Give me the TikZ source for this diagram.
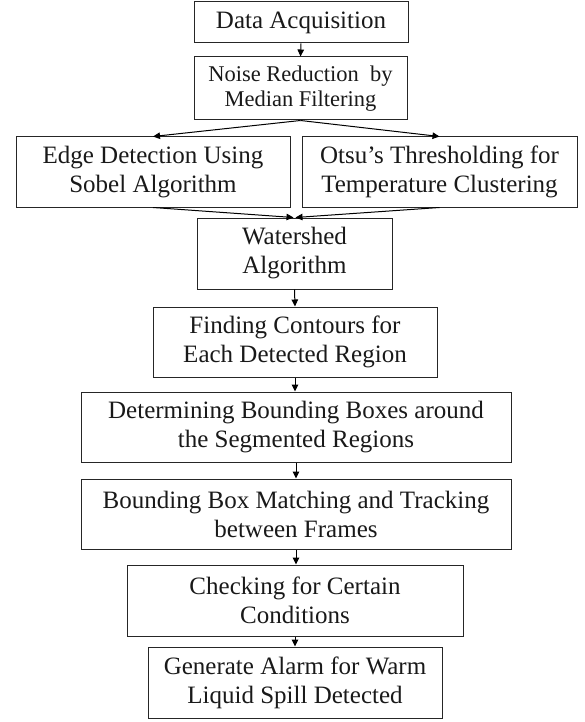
\documentclass[tikz,border=0pt]{standalone}
\usepackage{fontspec}
\setmainfont{Liberation Serif}
\usetikzlibrary{arrows.meta}
\begin{document}
\begin{tikzpicture}[x=1pt,y=-1pt,
  box/.style={draw=black!85, line width=1pt, inner sep=0pt, align=center,
    text=black!90, font=\fontsize{25}{29}\selectfont},
  smalltext/.style={font=\fontsize{22.5}{25}\selectfont},
  arr/.style={draw=black, line width=1pt, -{Triangle[length=7pt,width=6.5pt]}}]
\useasboundingbox (0,0) rectangle (584,722);
\node[box, minimum width=214pt, minimum height=41pt] (data) at (301,22.5) {Data Acquisition};
\node[box, smalltext, minimum width=213pt, minimum height=63pt] (noise) at (300.5,88.5) {Noise Reduction\ \ by\\Median Filtering};
\node[box, minimum width=274pt, minimum height=70pt] (edge) at (153,172) {Edge Detection Using\\Sobel Algorithm};
\node[box, minimum width=275pt, minimum height=70pt] (otsu) at (439.5,172) {Otsu’s Thresholding for\\Temperature Clustering};
\node[box, minimum width=195pt, minimum height=71pt] (water) at (294.5,253.5) {Watershed\\Algorithm};
\node[box, minimum width=284pt, minimum height=70pt] (contour) at (295,342) {Finding Contours for\\Each Detected Region};
\node[box, minimum width=430pt, minimum height=70pt] (bbox) at (296,427) {Determining Bounding Boxes around\\the Segmented Regions};
\node[box, minimum width=430pt, minimum height=70pt] (match) at (296,514) {Bounding Box Matching and Tracking\\between Frames};
\node[box, minimum width=336pt, minimum height=71pt] (check) at (295,600.5) {Checking for Certain\\Conditions};
\node[box, minimum width=294pt, minimum height=71pt] (alarm) at (295,682.5) {Generate Alarm for Warm\\Liquid Spill Detected};
\draw[arr] (data.south) -- (noise.north);
\draw[arr] (noise.south) -- (edge.north);
\draw[arr] (noise.south) -- (otsu.north);
\draw[arr] (edge.south) -- ([xshift=-1pt]water.north);
\draw[arr] (otsu.south) -- ([xshift=1pt]water.north);
\draw[arr] (water.south) -- (contour.north);
\draw[arr] (contour.south) -- (contour.south |- bbox.north);
\draw[arr] (bbox.south) -- (match.north);
\draw[arr] (match.south) -- (match.south |- check.north);
\draw[arr] (check.south) -- (alarm.north);
\end{tikzpicture}
\end{document}
